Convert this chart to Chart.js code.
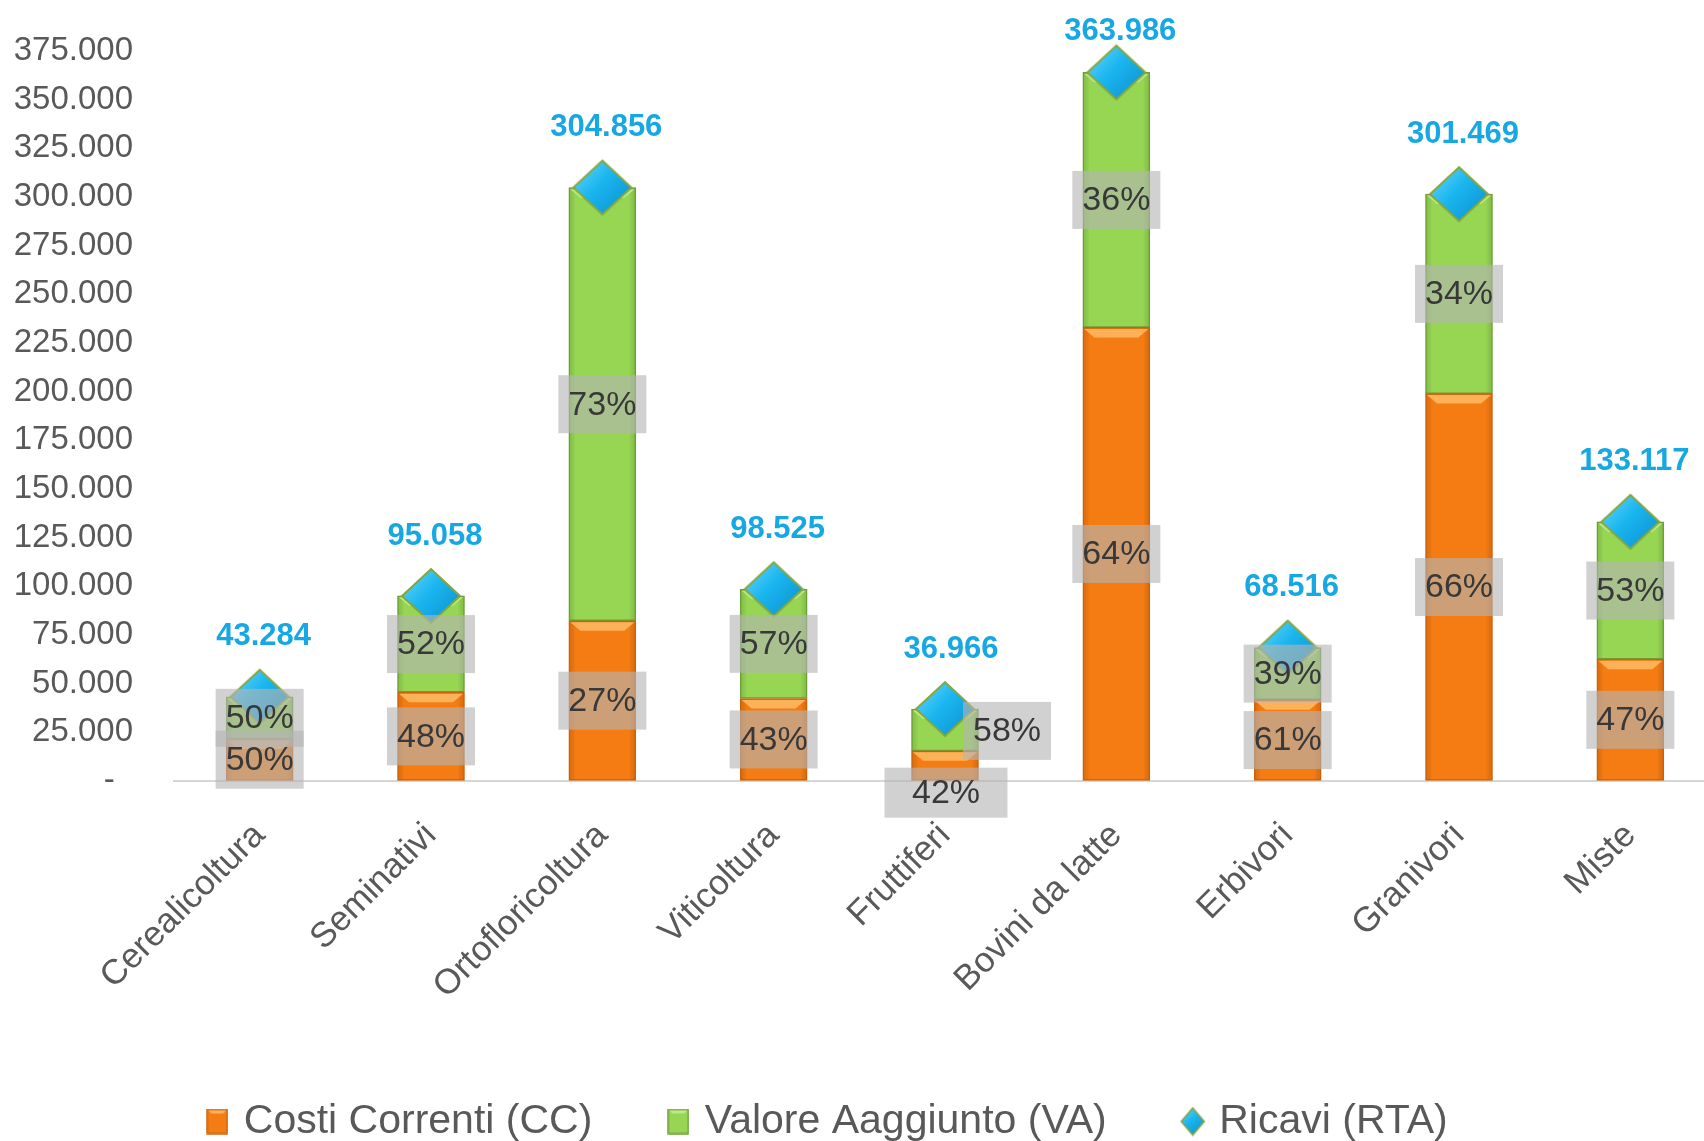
<!DOCTYPE html>
<html><head><meta charset="utf-8">
<script src="https://cdn.jsdelivr.net/npm/chart.js@4.4.1/dist/chart.umd.min.js"></script>
<style>
html,body{margin:0;padding:0;background:#fff;overflow:hidden;width:1704px;height:1141px}
#wrap{position:absolute;left:0;top:0;width:1720px;height:1141px}
</style>
</head><body><div id="wrap"><canvas id="c" width="1720" height="1141"></canvas></div>
<script>
const categories = ['Cerealicoltura','Seminativi','Ortofloricoltura','Viticoltura','Fruttiferi','Bovini da latte','Erbivori','Granivori','Miste'];
const costiCorrenti = [21600, 45600, 82300, 42400, 15500, 233000, 41800, 199000, 62600];
const valoreAggiunto = [21700, 49500, 222500, 56100, 21500, 131000, 26700, 102500, 70500];
const ricavi = [43284, 95058, 304856, 98525, 36966, 363986, 68516, 301469, 133117];
const pctCC = ['50%','48%','27%','43%','42%','64%','61%','66%','47%'];
const pctVA = ['50%','52%','73%','57%','58%','36%','39%','34%','53%'];
const yTickValues = [0,25000,50000,75000,100000,125000,150000,175000,200000,225000,250000,275000,300000,325000,350000,375000];
const seriesNames = ['Costi Correnti (CC)','Valore Aaggiunto (VA)','Ricavi (RTA)'];

function fmt(v){
  if (v === 0) return '-\u00a0\u00a0';
  return String(v).replace(/\B(?=(\d{3})+(?!\d))/g, '.');
}

const FONT = '"Liberation Sans", Arial, sans-serif';
const ORANGE = '#F57C12', ORANGE_B = '#C8620C', GREEN = '#96D653', GREEN_B = '#6E9E38';

function makeBoxIcon(w, h, fill, stroke, light){
  const c = document.createElement('canvas'); c.width = w; c.height = h;
  const g = c.getContext('2d');
  g.fillStyle = fill; g.fillRect(1,1,w-2,h-2);
  g.fillStyle = light;
  g.beginPath(); g.moveTo(1,1); g.lineTo(w-1,1); g.lineTo(w-5,5); g.lineTo(5,5); g.closePath(); g.fill();
  g.lineWidth = 1.5; g.strokeStyle = stroke; g.strokeRect(1,1,w-2,h-2);
  return c;
}
function makeDiamond(w, h, lw){
  const c = document.createElement('canvas'); c.width = w; c.height = h;
  const g = c.getContext('2d');
  const grad = g.createLinearGradient(0, 0, w, h);
  grad.addColorStop(0, '#74dcff'); grad.addColorStop(0.45, '#1ab6ef'); grad.addColorStop(1, '#0a8bcc');
  g.beginPath(); g.moveTo(w/2, lw); g.lineTo(w-lw, h/2); g.lineTo(w/2, h-lw); g.lineTo(lw, h/2); g.closePath();
  g.fillStyle = grad; g.fill();
  g.lineWidth = lw; g.strokeStyle = '#86a63a'; g.stroke();
  return c;
}
const diamondPoint = makeDiamond(62, 58, 2);
const legendIcons = [
  makeBoxIcon(22, 26, ORANGE, ORANGE_B, '#FDB25A'),
  makeBoxIcon(22, 26, GREEN, GREEN_B, '#BDEA86'),
  makeDiamond(26, 30, 1.5)
];

const bevelPlugin = {
  id: 'bevel',
  afterDatasetDraw(chart, args, opts){
    const st = opts.styles[args.index];
    if (!st) return;
    const ctx = chart.ctx;
    ctx.save();
    args.meta.data.forEach(el => {
      const p = el.getProps(['x','y','base','width'], true);
      const l = p.x - p.width/2, r = p.x + p.width/2;
      const top = Math.min(p.y, p.base), bot = Math.max(p.y, p.base);
      const h = bot - top; if (h <= 2) return;
      const g = ctx.createLinearGradient(l, 0, r, 0);
      g.addColorStop(0, st.side); g.addColorStop(0.1, 'rgba(0,0,0,0)');
      g.addColorStop(0.9, 'rgba(0,0,0,0)'); g.addColorStop(1, st.side);
      ctx.fillStyle = g; ctx.fillRect(l+1, top+1, p.width-2, h-2);
      const b = Math.min(10, h/2);
      ctx.beginPath();
      ctx.moveTo(l+1.5, top+1.5); ctx.lineTo(r-1.5, top+1.5);
      ctx.lineTo(r-1.5-b, top+b); ctx.lineTo(l+1.5+b, top+b); ctx.closePath();
      ctx.fillStyle = st.top; ctx.fill();
    });
    ctx.restore();
  }
};

const labelsPlugin = {
  id: 'segLabels',
  afterDatasetsDraw(chart, args, opts){
    const ctx = chart.ctx;
    ctx.save();
    ctx.textAlign = 'center'; ctx.textBaseline = 'middle';
    ctx.font = '34px ' + FONT;
    [[0, pctCC], [1, pctVA]].forEach(([di, texts]) => {
      const meta = chart.getDatasetMeta(di);
      meta.data.forEach((el, i) => {
        const adj = (opts.adjust[di] && opts.adjust[di][i]) || {};
        const cx = el.x + (adj.dx || 0);
        const cy = (el.y + el.base)/2 + (adj.dy || 0);
        const bw = adj.w || 88, bh = adj.h || 58;
        ctx.fillStyle = 'rgba(180,180,180,0.62)';
        ctx.fillRect(cx - bw/2, cy - bh/2, bw, bh);
        ctx.fillStyle = '#383838';
        ctx.fillText(texts[i], cx, cy + 1);
      });
    });
    const meta = chart.getDatasetMeta(2);
    ctx.font = 'bold 31px ' + FONT;
    meta.data.forEach((el, i) => {
      const dx = (opts.totalDx[i] !== undefined ? opts.totalDx[i] : 4);
      const y = Math.max(el.y - 60, 31);
      ctx.lineWidth = 4; ctx.strokeStyle = 'rgba(255,255,255,0.9)';
      ctx.strokeText(fmt(ricavi[i]), el.x + dx, y);
      ctx.fillStyle = '#17A8E3';
      ctx.fillText(fmt(ricavi[i]), el.x + dx, y);
    });
    ctx.restore();
  }
};

new Chart(document.getElementById('c').getContext('2d'), {
  data: {
    labels: categories,
    datasets: [
      { type: 'bar', label: seriesNames[0], data: costiCorrenti, backgroundColor: ORANGE, borderColor: ORANGE_B,
        borderWidth: 1.5, borderSkipped: false, barThickness: 67, order: 1, clip: false },
      { type: 'bar', label: seriesNames[1], data: valoreAggiunto, backgroundColor: GREEN, borderColor: GREEN_B,
        borderWidth: 1.5, borderSkipped: false, barThickness: 67, order: 2, clip: false },
      { type: 'line', label: seriesNames[2], data: ricavi, showLine: false, stack: 'ricavi',
        pointStyle: diamondPoint, pointRadius: 30, pointHoverRadius: 30, backgroundColor: '#1ab6ef',
        borderColor: '#86a63a', order: 0, clip: false }
    ]
  },
  options: {
    responsive: false,
    animation: false,
    layout: { autoPadding: false, padding: { top: 51, right: 4, left: 0, bottom: 0 } },
    scales: {
      x: {
        stacked: true,
        grid: { display: false },
        border: { display: true, color: '#d6d6d6', width: 2 },
        ticks: { color: '#595959', font: { family: FONT, size: 35 }, maxRotation: 45, minRotation: 45, padding: 26, autoSkip: false },
        afterFit: s => { s.height = 240; }
      },
      y: {
        stacked: true,
        min: 0, max: 375000,
        grid: { display: true, drawOnChartArea: false, drawTicks: true, tickLength: 38, tickColor: 'rgba(0,0,0,0)' },
        border: { display: false },
        afterBuildTicks: s => { s.ticks = yTickValues.map(v => ({ value: v })); },
        ticks: { color: '#595959', font: { family: FONT, size: 33 }, padding: 3, callback: v => fmt(v) },
        afterFit: s => { s.width = 174; }
      }
    },
    plugins: {
      tooltip: { enabled: false },
      legend: {
        position: 'bottom',
        maxHeight: 120,
        labels: {
          usePointStyle: true,
          boxWidth: 12, boxHeight: 27,
          padding: 80,
          color: '#595959',
          font: { family: FONT, size: 41 },
          generateLabels: chart => {
            const items = Chart.defaults.plugins.legend.labels.generateLabels(chart);
            items.forEach((it, i) => {
              it.pointStyle = legendIcons[i];
              it.text = seriesNames[i] + (i === items.length - 1 ? '\u00a0\u00a0\u00a0\u00a0\u00a0' : '');
            });
            return items;
          }
        }
      },
      bevel: { styles: { 0: { top: '#FDB25A', side: 'rgba(150,60,0,0.22)' }, 1: { top: '#BDEA86', side: 'rgba(60,110,20,0.2)' } } },
      segLabels: {
        adjust: { 0: { 4: { dx: 1, dy: 27, w: 123, h: 50 } }, 1: { 4: { dx: 62, dy: 1 } } },
        totalDx: { 4: 6 }
      }
    }
  },
  plugins: [bevelPlugin, labelsPlugin]
});
</script>
</body></html>
